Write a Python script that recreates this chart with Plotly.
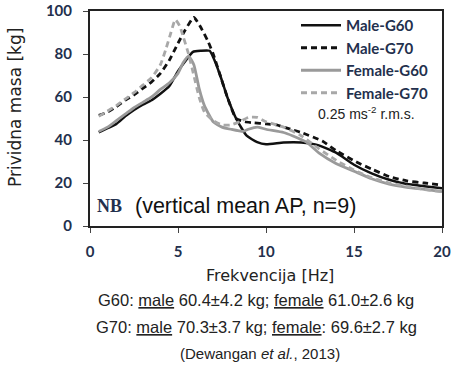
import plotly.graph_objects as go

# Frequency axis values (Hz) for each series
male_g60_x = [0.5, 1, 1.5, 2, 2.5, 3, 3.5, 4, 4.5, 5, 5.4, 5.85, 6.3, 6.8, 7.0, 7.4, 7.8, 8.3, 8.9, 9.5, 10, 11, 12, 13, 14, 15, 16, 17, 18, 19, 20]
male_g60_y = [43.5, 45.5, 47.5, 51, 54, 56.5, 58.5, 61.5, 65, 72, 76.5, 81, 81.5, 81.5, 78.5, 70, 60, 50, 42, 39, 38, 38.8, 38.8, 37.5, 34, 28.5, 24.5, 21.5, 19.5, 18.5, 17.5]

male_g70_x = [0.5, 1, 1.5, 2, 2.5, 3, 3.5, 4, 4.5, 5, 5.4, 5.9, 6.25, 6.7, 7.0, 7.4, 7.8, 8.3, 8.8, 9.3, 10, 10.6, 11.4, 12, 13.2, 14, 15.2, 16, 17, 18, 19, 20]
male_g70_y = [51.5, 53, 55.5, 58.5, 61, 64, 67, 71, 77, 85, 91, 97, 93, 86, 80, 70, 60, 50, 48.5, 48, 47.5, 47, 45, 43.5, 39.5, 35, 29.5, 26.5, 23, 21, 20, 19]

female_g60_x = [0.5, 1, 1.5, 2, 2.5, 3, 3.5, 4, 4.5, 5, 5.3, 5.6, 5.9, 6.2, 6.5, 7, 7.5, 8, 8.7, 9, 9.5, 10, 11, 11.5, 12.3, 13, 14, 15, 16, 17, 18, 19, 20]
female_g60_y = [44, 46, 49, 52, 55, 57.5, 60, 63.5, 66.5, 71, 76, 79, 75, 64, 56, 48.5, 46, 45, 44, 45, 46, 45, 43.5, 42, 39, 34, 29, 25.5, 22, 19.5, 18, 17, 16]

female_g70_x = [0.5, 1, 1.5, 2, 2.5, 3, 3.5, 4, 4.3, 4.6, 4.85, 5.1, 5.3, 5.6, 5.9, 6.2, 6.5, 7, 7.5, 8, 8.5, 9, 9.5, 10, 11, 12, 13, 14, 15, 16, 17, 18, 19, 20]
female_g70_y = [51, 53.5, 56, 59, 62, 65.5, 69, 75, 82, 90, 96, 93, 88, 80, 70, 60, 53, 49, 47, 47, 48.5, 50.5, 50.5, 48.5, 46, 42, 36, 30.5, 26, 22.5, 20, 18.5, 17, 16]

x_ticks = [0, 5, 10, 15, 20]
y_ticks = [0, 20, 40, 60, 80, 100]

NAVY = "#23304d"
GEO = "Lato, 'Open Sans', sans-serif"
WIDE = "'DejaVu Sans', Verdana, sans-serif"
SANS = "'Liberation Sans', Arial, sans-serif"

fig = go.Figure()
fig.add_trace(go.Scatter(x=male_g60_x, y=male_g60_y, name="Male-G60", mode="lines", legendgroup="a",
                         line=dict(color="#111111", width=2.5, shape="spline", smoothing=0.5)))
fig.add_trace(go.Scatter(x=male_g70_x, y=male_g70_y, name="Male-G70", mode="lines", legendgroup="b",
                         line=dict(color="#111111", width=2.8, dash="6px,4px", shape="spline", smoothing=0.5)))
fig.add_trace(go.Scatter(x=female_g60_x, y=female_g60_y, name="Female-G60", mode="lines", legendgroup="c",
                         line=dict(color="#9a9a9a", width=2.8, shape="spline", smoothing=0.5)))
fig.add_trace(go.Scatter(x=female_g70_x, y=female_g70_y, name="Female-G70", mode="lines", legendgroup="d",
                         line=dict(color="#a8a8a8", width=2.8, dash="6px,4px", shape="spline", smoothing=0.5)))

X0, X1, YT, YB = 90, 442, 11, 226
W, H = X1 - X0, YB - YT

def px(x):
    return (x - X0) / W

def py(y):
    return (YB - y) / H

annotations = [
    dict(text="Prividna masa [kg]", x=px(15), y=py(108), textangle=-90, font=dict(size=17, color="#222", family=WIDE)),
    dict(text="Frekvencija [Hz]", x=px(270), y=py(275), font=dict(size=16, color="#222", family=WIDE)),
    dict(text="G60: <u>male</u> 60.4±4.2 kg; <u>female</u> 61.0±2.6 kg", x=px(256), y=py(300),
         font=dict(size=16.5, color="#222", family=SANS)),
    dict(text="G70: <u>male</u> 70.3±3.7 kg; <u>female</u>: 69.6±2.7 kg", x=px(256), y=py(327),
         font=dict(size=16.5, color="#222", family=SANS)),
    dict(text="(Dewangan <i>et al.</i>, 2013)", x=px(260), y=py(353),
         font=dict(size=15, color="#222", family=SANS)),
    dict(text="0.25 ms<sup>-2</sup> r.m.s.", x=px(366), y=py(113),
         font=dict(size=14, color="#222", family=SANS)),
    dict(text="<b>NB</b>", x=px(95), y=py(206), xanchor="left",
         font=dict(size=18, color=NAVY, family="'Liberation Serif', 'DejaVu Serif', serif")),
    dict(text="(vertical mean AP, n=9)", x=px(133), y=py(206), xanchor="left",
         font=dict(size=21.5, color="#111", family=SANS)),
]
for a in annotations:
    a.setdefault("xanchor", "center")
    a.update(xref="paper", yref="paper", yanchor="middle", showarrow=False)

fig.update_layout(
    width=458, height=367,
    margin=dict(l=X0, r=458 - X1, t=YT, b=367 - YB, autoexpand=False),
    paper_bgcolor="white", plot_bgcolor="white",
    showlegend=True,
    legend=dict(x=px(296), y=py(9), xanchor="left", yanchor="top",
                bgcolor="rgba(0,0,0,0)", borderwidth=0,
                font=dict(size=15, color=NAVY, family=GEO, weight="bold"),
                itemwidth=40, tracegroupgap=0),
    annotations=annotations,
)
fig.update_xaxes(range=[0, 20], tickvals=x_ticks, showgrid=False, zeroline=False,
                 showline=True, linecolor="#222", linewidth=2, mirror=True, automargin=False,
                 ticks="outside", ticklen=5, tickcolor="#444", tickwidth=1,
                 ticklabelstandoff=6,
                 tickfont=dict(size=15, color=NAVY, family=GEO, weight="bold"))
fig.update_yaxes(range=[0, 100], tickvals=y_ticks, showgrid=False, zeroline=False,
                 showline=True, linecolor="#222", linewidth=2, mirror=True, automargin=False,
                 ticks="outside", ticklen=5, tickcolor="#444", tickwidth=1,
                 ticklabelstandoff=8,
                 tickfont=dict(size=15, color=NAVY, family=GEO, weight="bold"))

fig.write_html("out.html", config={"displayModeBar": False},
               post_script="document.body.style.margin='0';")
